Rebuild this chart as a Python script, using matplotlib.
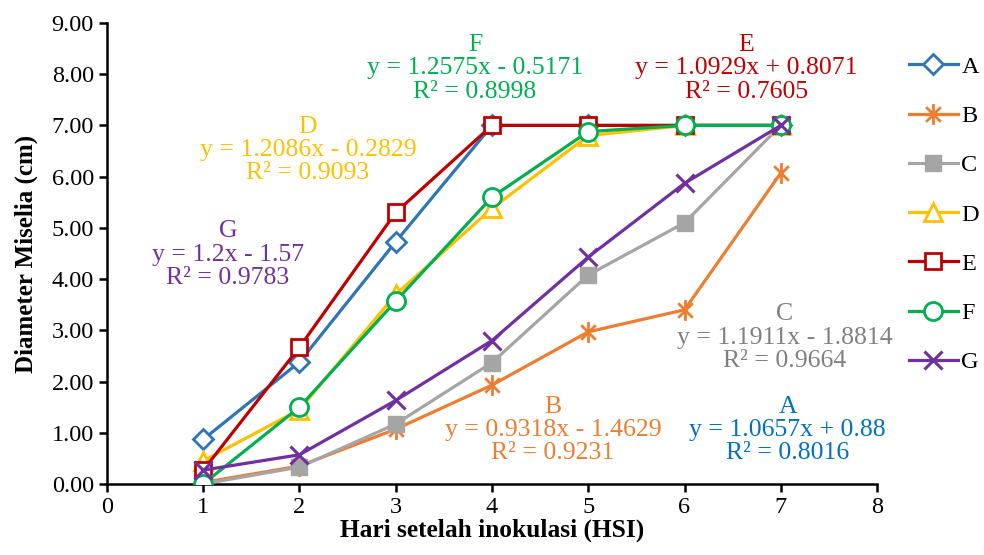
import numpy as np
import matplotlib
matplotlib.use("Agg")
import matplotlib.pyplot as plt
from matplotlib.path import Path

plt.rcParams['font.family'] = ['Liberation Serif', 'DejaVu Serif']

# data: hari setelah inokulasi vs diameter miselia
hari = [1, 2, 3, 4, 5, 6, 7]
A = [0.87, 2.38, 4.73, 7.00, 7.00, 7.00, 7.00]
B = [0.03, 0.35, 1.07, 1.93, 2.97, 3.40, 6.07]
C = [0.00, 0.33, 1.17, 2.37, 4.08, 5.10, 7.00]
D = [0.45, 1.45, 3.70, 5.38, 6.80, 7.00, 7.00]
E = [0.27, 2.67, 5.30, 7.00, 7.00, 7.00, 7.00]
F = [0.00, 1.50, 3.57, 5.60, 6.88, 7.00, 7.00]
G = [0.27, 0.57, 1.63, 2.80, 4.43, 5.87, 7.00]

names = ["A", "B", "C", "D", "E", "F", "G"]
series = [A, B, C, D, E, F, G]
equations = ["y = 1.0657x + 0.88\nR² = 0.8016",
             "y = 0.9318x - 1.4629\nR² = 0.9231",
             "y = 1.1911x - 1.8814\nR² = 0.9664",
             "y = 1.2086x - 0.2829\nR² = 0.9093",
             "y = 1.0929x + 0.8071\nR² = 0.7605",
             "y = 1.2575x - 0.5171\nR² = 0.8998",
             "y = 1.2x - 1.57\nR² = 0.9783"]

line_colors = ["#2E75B6", "#ED7D31", "#A5A5A5", "#FFC000", "#C00000", "#00B050", "#7030A0"]
text_colors = ["#0070C0", "#ED7D31", "#808080", "#FFC000", "#C00000", "#00B050", "#7030A0"]

# excel style star marker
star = Path([(0, -1), (0, 1), (-0.7, -0.7), (0.7, 0.7), (-0.7, 0.7), (0.7, -0.7)],
            [Path.MOVETO, Path.LINETO, Path.MOVETO, Path.LINETO, Path.MOVETO, Path.LINETO])

styles = [
    dict(marker="D", ms=10.5, mfc="white", mew=2),
    dict(marker=star, ms=15, mew=2),
    dict(marker="s", ms=12, mfc="#A5A5A5", mew=1),
    dict(marker="^", ms=12.5, mfc="white", mew=2),
    dict(marker="s", ms=12, mfc="white", mew=2),
    dict(marker="o", ms=13, mfc="white", mew=2),
    dict(marker="x", ms=13, mew=2.2),
]

# label positions in axes fraction (center of the text block = equation line)
label_pos = [(0.884, 0.117), (0.579, 0.117), (0.8805, 0.317),
             (0.261, 0.7245), (0.830, 0.902), (0.478, 0.902), (0.157, 0.497)]

fig = plt.figure(figsize=(9.84, 5.55), dpi=100)
ax = fig.add_axes([0.1087, 0.128, 0.7826, 0.8306])

handles = []
for name, ys, c, st in zip(names, series, line_colors, styles):
    h, = ax.plot(hari, ys, color=c, lw=2.3, mec=c, label=name, zorder=3, **st)
    handles.append(h)

for name, eq, tc, (px, py) in zip(names, equations, text_colors, label_pos):
    ax.text(px, py, name + "\n" + eq, transform=ax.transAxes, ha="center", va="center",
            color=tc, fontsize=18.5, linespacing=1.08)

ax.set_xlim(0, 8)
ax.set_ylim(0, 9)
ax.set_xticks(range(0, 9))
ax.set_yticks(np.arange(0, 9.5, 1))
ax.set_yticklabels([f"{v:.2f}" for v in np.arange(0, 9.5, 1)])
ax.tick_params(labelsize=17.5, width=1.8, length=6, direction="out", color="black")
for s in ["top", "right"]:
    ax.spines[s].set_visible(False)
for s in ["left", "bottom"]:
    ax.spines[s].set_linewidth(1.8)

ax.set_xlabel("Hari setelah inokulasi (HSI)", fontsize=18.3, fontweight="bold", labelpad=0)
ax.set_ylabel("Diameter Miselia (cm)", fontsize=18, fontweight="bold", labelpad=10)

fig.legend(handles=handles, loc="upper left", bbox_to_anchor=(0.919, 0.908),
           frameon=False, fontsize=17.5, labelspacing=1.12, handlelength=2.0,
           handletextpad=0.15, borderaxespad=0, borderpad=0.2)

fig.savefig("out.png", dpi=100)
